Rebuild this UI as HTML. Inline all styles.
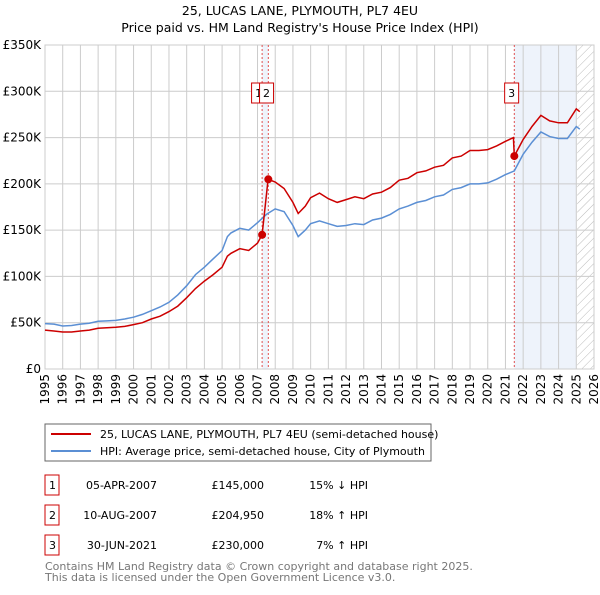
<!DOCTYPE html>
<html><head><meta charset="utf-8"><style>
body{margin:0;background:#fff;font-family:"Liberation Sans","DejaVu Sans",sans-serif;}
svg text{font-family:"DejaVu Sans","Liberation Sans",sans-serif;}
</style></head><body>
<svg id="c" width="600" height="590" xmlns="http://www.w3.org/2000/svg">
<defs><pattern id="hatch" width="6" height="6" patternUnits="userSpaceOnUse" patternTransform="rotate(45)"><line x1="0" y1="0" x2="0" y2="6" stroke="#bbb" stroke-width="1"/></pattern></defs>
<text x="300" y="15" text-anchor="middle" font-size="12.5" fill="#000">25, LUCAS LANE, PLYMOUTH, PL7 4EU</text>
<text x="300" y="32" text-anchor="middle" font-size="12.5" fill="#000">Price paid vs. HM Land Registry's House Price Index (HPI)</text>
<g id="grid"></g><g id="marks"></g>
<rect x="45" y="424" width="386" height="37" fill="#fff" stroke="#666"/>
<line x1="51" y1="434" x2="91" y2="434" stroke="#cc0000" stroke-width="2"/>
<text x="100" y="438" font-size="11">25, LUCAS LANE, PLYMOUTH, PL7 4EU (semi-detached house)</text>
<line x1="51" y1="451" x2="91" y2="451" stroke="#5b8fd4" stroke-width="2"/>
<text x="100" y="455" font-size="11">HPI: Average price, semi-detached house, City of Plymouth</text>
<g font-size="11" fill="#000">
<rect x="45" y="475" width="14" height="20" fill="none" stroke="#cc0000"/><text x="49" y="489">1</text>
<text x="157" y="489" text-anchor="end">05-APR-2007</text><text x="264" y="489" text-anchor="end">£145,000</text><text x="368" y="489" text-anchor="end">15% ↓ HPI</text>
<rect x="45" y="505" width="14" height="20" fill="none" stroke="#cc0000"/><text x="49" y="519">2</text>
<text x="157" y="519" text-anchor="end">10-AUG-2007</text><text x="264" y="519" text-anchor="end">£204,950</text><text x="368" y="519" text-anchor="end">18% ↑ HPI</text>
<rect x="45" y="535" width="14" height="20" fill="none" stroke="#cc0000"/><text x="49" y="549">3</text>
<text x="157" y="549" text-anchor="end">30-JUN-2021</text><text x="264" y="549" text-anchor="end">£230,000</text><text x="368" y="549" text-anchor="end">7% ↑ HPI</text>
</g>
<text x="45" y="570" font-size="11" fill="#777">Contains HM Land Registry data © Crown copyright and database right 2025.</text>
<text x="45" y="581" font-size="11" fill="#777">This data is licensed under the Open Government Licence v3.0.</text>
</svg>
<script>
const hpiYears=[1995,1995.5,1996,1996.5,1997,1997.5,1998,1998.5,1999,1999.5,2000,2000.5,2001,2001.5,2002,2002.5,2003,2003.5,2004,2004.5,2005,2005.3,2005.5,2006,2006.5,2007,2007.5,2008,2008.5,2009,2009.3,2009.7,2010,2010.5,2011,2011.5,2012,2012.5,2013,2013.5,2014,2014.5,2015,2015.5,2016,2016.5,2017,2017.5,2018,2018.5,2019,2019.5,2020,2020.5,2021,2021.5,2022,2022.5,2023,2023.5,2024,2024.5,2025,2025.2];
const hpiValues=[49,48.5,46.5,47,48.5,49.5,51.5,52,52.5,54,56,59,63,67,72,80,90,102,110,119,128,143,147,152,150,158,167,173,170,155,143,150,157,160,157,154,155,157,156,161,163,167,173,176,180,182,186,188,194,196,200,200,201,205,210,214,232,245,256,251,249,249,262,259];
const priceYears=[1995,1995.5,1996,1996.5,1997,1997.5,1998,1998.5,1999,1999.5,2000,2000.5,2001,2001.5,2002,2002.5,2003,2003.5,2004,2004.5,2005,2005.3,2005.5,2006,2006.5,2007,2007.26,2007.6,2008,2008.5,2009,2009.3,2009.7,2010,2010.5,2011,2011.5,2012,2012.5,2013,2013.5,2014,2014.5,2015,2015.5,2016,2016.5,2017,2017.5,2018,2018.5,2019,2019.5,2020,2020.5,2021,2021.45,2021.5,2022,2022.5,2023,2023.5,2024,2024.5,2025,2025.2];
const priceValues=[42,41,40,40,41,42,44,44.5,45,46,48,50,54,57,62,68,77,87,95,102,110,122,125,130,128,136,145,204.95,202,195,180,168,176,185,190,184,180,183,186,184,189,191,196,204,206,212,214,218,220,228,230,236,236,237,241,246,250,230,248,262,274,268,266,266,281,278];
const saleYears=[2007.26,2007.61,2021.5];
const saleValues=[145,204.95,230];
const saleLabels=["1","2","3"];
const yTicks=[0,50,100,150,200,250,300,350];
const yTickLabels=["£0","£50K","£100K","£150K","£200K","£250K","£300K","£350K"];
const xTicks=[1995,1996,1997,1998,1999,2000,2001,2002,2003,2004,2005,2006,2007,2008,2009,2010,2011,2012,2013,2014,2015,2016,2017,2018,2019,2020,2021,2022,2023,2024,2025,2026];

const NS="http://www.w3.org/2000/svg";
const L=45,R=594,T=45,B=369;
const xs=v=>L+(v-1995)/(2026-1995)*(R-L);
const ys=v=>B-v/350*(B-T);
function mk(tag,attrs,parent){const e=document.createElementNS(NS,tag);for(const k in attrs)e.setAttribute(k,attrs[k]);parent.appendChild(e);return e;}
const g=document.getElementById('grid'),m=document.getElementById('marks');
let s1=mk('rect',{x:xs(saleYears[0]),y:T,width:xs(saleYears[1])-xs(saleYears[0]),height:B-T,fill:'#eef3fb'},g);


let s2=mk('rect',{x:xs(saleYears[2]),y:T,width:xs(2025)-xs(saleYears[2]),height:B-T,fill:'#eef3fb'},g);


let h=mk('rect',{x:xs(2025.05),y:T,width:R-xs(2025.05),height:B-T,fill:'url(#hatch)'},g);


xTicks.forEach(v=>{
  mk('line',{x1:xs(v),y1:T,x2:xs(v),y2:B,stroke:'#ccc','stroke-width':1},g);
  const t=mk('text',{x:0,y:0,'font-size':12,'text-anchor':'end',transform:`translate(${xs(v)+4},${B+5}) rotate(-90)`},g);
  t.textContent=v;
  
  
});
yTicks.forEach((v,i)=>{
  mk('line',{x1:L,y1:ys(v),x2:R,y2:ys(v),stroke:'#ccc','stroke-width':1},g);
  const t=mk('text',{x:L-4,y:ys(v)+4,'font-size':12,'text-anchor':'end'},g);
  t.textContent=yTickLabels[i];
  
  
});
mk('rect',{x:L,y:T,width:R-L,height:B-T,fill:'none',stroke:'#ccc'},g);
saleYears.forEach(v=>{mk('line',{x1:xs(v),y1:T,x2:xs(v),y2:B,stroke:'#e05050','stroke-width':1,'stroke-dasharray':'2,2'},g);});
function line(xa,ya,col,name){
  const p=mk('path',{d:xa.map((x,i)=>(i?'L':'M')+xs(x).toFixed(1)+','+ys(ya[i]).toFixed(1)).join(''),fill:'none',stroke:col,'stroke-width':1.5},m);
  
  
}
line(hpiYears,hpiValues,'#5b8fd4','hpi-line');
line(priceYears,priceValues,'#cc0000','price-line');
saleYears.forEach((v,i)=>{
  const c=mk('circle',{cx:xs(v),cy:ys(saleValues[i]),r:4,fill:'#cc0000'},m);
  
  
});
[[saleYears[0]-0.2,'1'],[saleYears[1]-0.1,'2'],[saleYears[2]-0.15,'3']].forEach(([v,l],i)=>{
  const bx=xs(v)-7;
  mk('rect',{x:bx,y:83,width:14,height:20,fill:'#fff',stroke:'#cc0000'},m);
  const t=mk('text',{x:bx+7,y:97,'font-size':11,'text-anchor':'middle'},m);
  t.textContent=l;
  
  
});
</script>
</body></html>
